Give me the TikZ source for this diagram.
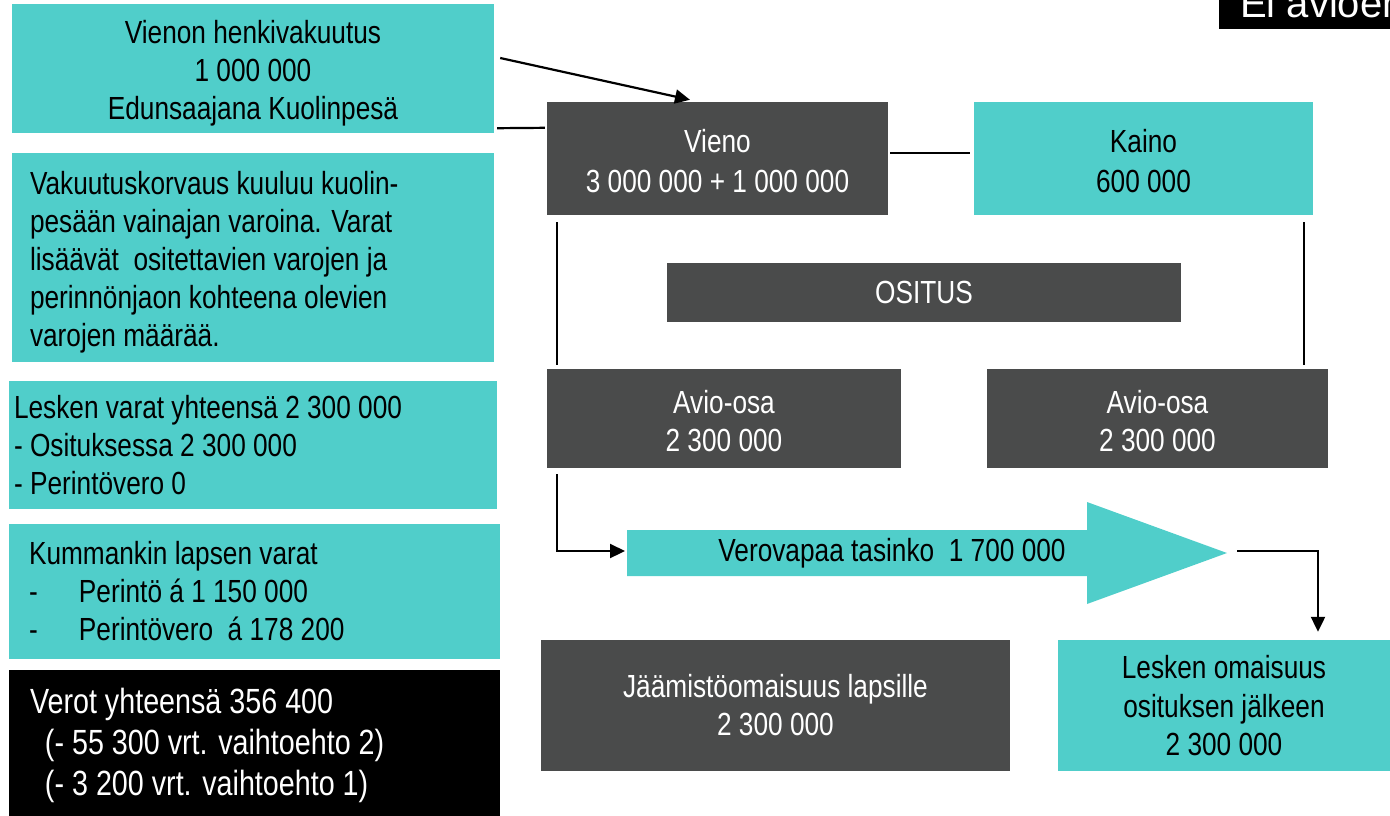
\documentclass[tikz,border=0pt]{standalone}
\usepackage{fontspec}
\setmainfont{Liberation Sans}[FakeStretch=0.82]
\newfontfamily\titlefont{Liberation Sans}
\usetikzlibrary{arrows.meta}
\definecolor{tealbox}{RGB}{80,206,202}
\definecolor{darkbox}{RGB}{74,75,75}
\begin{document}
\begin{tikzpicture}[x=1pt,y=-1pt,
  tbox/.style={rectangle, fill=tealbox, text=black, inner sep=0pt},
  gbox/.style={rectangle, fill=darkbox, text=white, inner sep=0pt},
  kbox/.style={rectangle, fill=black, text=white, inner sep=0pt},
  txt/.style={font=\fontsize{32pt}{38pt}\selectfont},
  bigtxt/.style={font=\fontsize{35pt}{41pt}\selectfont},
  conn/.style={line width=2.2pt, black},
  arr/.style={conn, -{Triangle[length=15pt,width=14pt]}},
]
\useasboundingbox (0,0) rectangle (1390,815);

% left column
\node[tbox, txt, minimum width=482pt, minimum height=129pt, text width=482pt, align=flush center, text height=33pt] (b1) at (253,68.5)
  {Vienon henkivakuutus\\1 000 000\\Edunsaajana Kuolinpesä};
\node[tbox, txt, minimum width=482pt, minimum height=209pt, inner xsep=18pt, text width=446pt, align=flush left, text height=33pt] (b2) at (253,257.5)
  {Vakuutuskorvaus kuuluu kuolin-\\pesään vainajan varoina. Varat\\lisäävät\ \ ositettavien varojen ja\\perinnönjaon kohteena olevien\\varojen määrää.};
\node[tbox, txt, minimum width=488pt, minimum height=128pt, inner xsep=5pt, text width=478pt, align=flush left] (b3) at (253,445)
  {Lesken varat yhteensä 2 300 000\\- Osituksessa 2 300 000\\- Perintövero 0};
\node[tbox, txt, minimum width=491pt, minimum height=135pt, inner xsep=20pt, text width=451pt, align=flush left] (b4) at (254.5,591.5)
  {Kummankin lapsen varat\\\makebox[50pt][l]{-}Perintö á 1 150 000\\\makebox[50pt][l]{-}Perintövero\ \ á 178 200};
\node[kbox, bigtxt, minimum width=491pt, minimum height=150pt, inner xsep=21pt, text width=449pt, align=flush left] (b5) at (254.5,745)
  {Verot yhteensä 356 400\\\hspace*{15pt}(- 55 300 vrt. vaihtoehto 2)\\\hspace*{15pt}(- 3 200 vrt. vaihtoehto 1)};

% title
\begin{scope}
\clip (0,0) rectangle (1390,815);
\node[kbox, minimum width=171pt, minimum height=29pt, anchor=north west] (title) at (1219,0) {};
\node[anchor=base west, text=white, inner sep=0pt, font=\titlefont\fontsize{40pt}{48pt}\selectfont] (titletext) at (1240,17) {Ei avioehtoa};
\end{scope}

% right part
\node[gbox, txt, minimum width=341pt, minimum height=113pt, text width=341pt, align=flush center, text height=29pt] (vieno) at (717.5,158.5)
  {Vieno\\[2pt]3 000 000 + 1 000 000};
\node[tbox, txt, minimum width=339pt, minimum height=113pt, text width=339pt, align=flush center, text height=29pt] (kaino) at (1143.5,158.5)
  {Kaino\\[2pt]600 000};
\node[gbox, txt, minimum width=514pt, minimum height=59pt, align=center] (ositus) at (924,292.5) {OSITUS};
\node[gbox, txt, minimum width=354pt, minimum height=99pt, text width=354pt, align=flush center, text height=29pt] (avioL) at (724,418.5)
  {Avio-osa\\2 300 000};
\node[gbox, txt, minimum width=341pt, minimum height=99pt, text width=341pt, align=flush center, text height=29pt] (avioR) at (1157.5,418.5)
  {Avio-osa\\2 300 000};
\node[gbox, txt, minimum width=469pt, minimum height=131pt, align=center] (jaam) at (775.5,705.5)
  {Jäämistöomaisuus lapsille\\2 300 000};
\node[tbox, txt, minimum width=332pt, minimum height=131pt, align=center] (lesken) at (1224,705.5)
  {Lesken omaisuus\\[1pt]osituksen jälkeen\\2 300 000};

% big arrow
\fill[tealbox] (627,530) -- (1087,530) -- (1087,502) -- (1227,553) -- (1087,604) -- (1087,576) -- (627,576) -- cycle;
\node[txt, inner sep=0pt] (tasinko) at (892,553) {Verovapaa tasinko\ \ 1 700 000};
\coordinate (tasL) at (625,551);
\coordinate (tasR) at (1237,551);

% connectors
\draw[arr] ([xshift=6pt,yshift=10.5pt]b1.east) -- ([xshift=-27.5pt,yshift=2pt]vieno.north);
\draw[conn] ([xshift=3pt,yshift=5pt]b1.south east) -- ([xshift=-2pt,yshift=-26pt]vieno.north west);
\draw[conn] ([xshift=2pt,yshift=5.5pt]vieno.east) -- ([xshift=-4pt,yshift=5.5pt]kaino.west);
\draw[conn] ([xshift=10pt,yshift=-7pt]vieno.south west) -- ([xshift=10pt,yshift=4pt]avioL.north west);
\draw[conn] ([xshift=-9pt,yshift=-7pt]kaino.south east) -- ([xshift=-24pt,yshift=4pt]avioR.north east);
\draw[arr] ([xshift=10pt,yshift=-6pt]avioL.south west) |- (tasL);
\draw[arr] (tasR) -| ([xshift=94pt,yshift=8pt]lesken.north);
\end{tikzpicture}
\end{document}
